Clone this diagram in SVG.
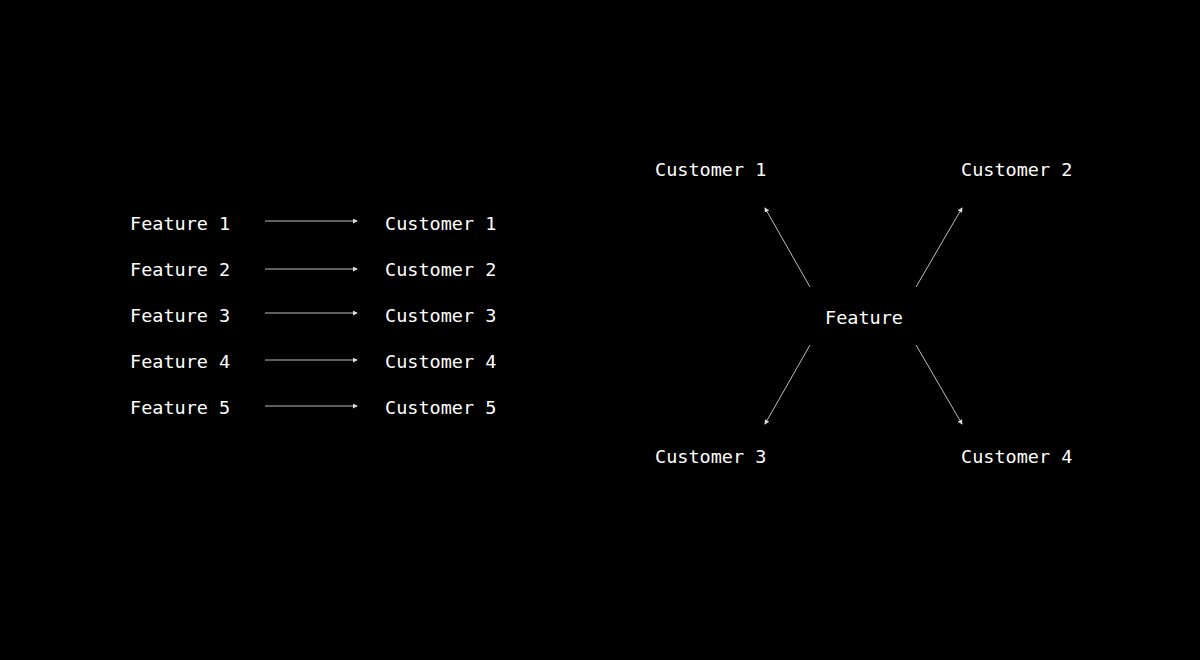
<svg xmlns="http://www.w3.org/2000/svg" width="1200" height="660" viewBox="0 0 1200 660">
<defs>
<style>
text{font-family:"DejaVu Sans Mono","Liberation Mono",monospace;font-size:18.5px;fill:#fff;dominant-baseline:central}
.c line{stroke:#bbb;stroke-width:1;marker-end:url(#a)}
</style>
<marker id="a" viewBox="0 0 6 6" refX="5" refY="3" markerWidth="5" markerHeight="5" orient="auto" markerUnits="userSpaceOnUse"><path d="M0,0L6,3L0,6z" fill="#ddd"/></marker>
</defs>
<rect width="1200" height="660" fill="#000"/>
<g id="f1"><text x="130" y="223">Feature 1</text></g>
<g id="f2"><text x="130" y="269">Feature 2</text></g>
<g id="f3"><text x="130" y="315">Feature 3</text></g>
<g id="f4"><text x="130" y="361">Feature 4</text></g>
<g id="f5"><text x="130" y="407">Feature 5</text></g>
<g id="lc1"><text x="385" y="223">Customer 1</text></g>
<g id="lc2"><text x="385" y="269">Customer 2</text></g>
<g id="lc3"><text x="385" y="315">Customer 3</text></g>
<g id="lc4"><text x="385" y="361">Customer 4</text></g>
<g id="lc5"><text x="385" y="407">Customer 5</text></g>
<g id="rc1"><text x="655" y="169">Customer 1</text></g>
<g id="rc2"><text x="961" y="169">Customer 2</text></g>
<g id="rc3"><text x="655" y="456">Customer 3</text></g>
<g id="rc4"><text x="961" y="456">Customer 4</text></g>
<g id="feat"><text x="864" y="317" text-anchor="middle">Feature</text></g>
<g class="c" id="connectors">
<line x1="265" y1="221" x2="357" y2="221"/>
<line x1="265" y1="269" x2="357" y2="269"/>
<line x1="265" y1="313" x2="357" y2="313"/>
<line x1="265" y1="360" x2="357" y2="360"/>
<line x1="265" y1="406" x2="357" y2="406"/>
<line x1="810" y1="287" x2="765" y2="208"/>
<line x1="916" y1="287" x2="962" y2="208"/>
<line x1="810" y1="345" x2="765" y2="424"/>
<line x1="916" y1="345" x2="962" y2="424"/>
</g>
</svg>
